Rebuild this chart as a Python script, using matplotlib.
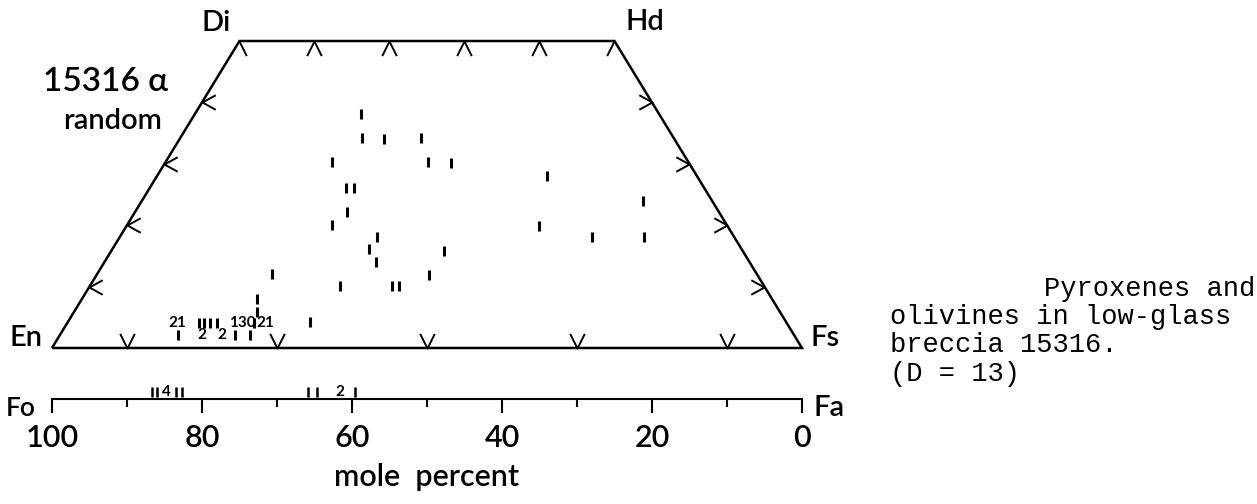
import numpy as np
import matplotlib.pyplot as plt
from matplotlib.path import Path

# pyroxene analyses (single points): horizontal position in mole percent, Wo content
pyx_mg = [58.8, 58.6, 55.7, 50.8, 62.7, 49.9, 46.8, 60.8, 59.7, 60.7, 62.7, 56.6,
          57.7, 47.7, 56.8, 70.6, 49.7, 61.6, 54.7, 53.7, 34.0, 21.2, 35.0, 28.0,
          21.1, 65.6, 83.2, 75.6, 73.6, 80.4, 79.7, 78.9, 78.0, 73.1, 72.6, 72.6]
pyx_wo = [38.1, 34.2, 34.0, 34.2, 30.3, 30.3, 30.1, 26.1, 26.1, 22.1, 20.0, 18.1,
          16.1, 15.8, 14.0, 12.1, 11.9, 10.1, 10.1, 10.1, 28.0, 23.9, 19.9, 18.1,
          18.1, 4.2, 2.1, 2.1, 2.1, 4.1, 4.1, 4.1, 4.1, 4.1, 5.8, 8.0]

# pyroxene multiple points written as counts
cnt_mg = [83.3, 74.6, 71.5, 80.0, 77.3]
cnt_wo = [4.1, 4.1, 4.1, 2.1, 2.1]
cnt_txt = ["21", "130", "21", "2", "2"]

# olivines on the Fo-Fa bar
ol_mg = [86.7, 86.0, 83.5, 82.7, 65.8, 64.7, 59.6]
ol_cnt_mg = [84.8, 61.6]
ol_cnt_txt = ["4", "2"]

tick_vals = [100, 80, 60, 40, 20, 0]
minor_vals = [90, 70, 50, 30, 10]

lab_font = ['Lato', 'DejaVu Sans']
lw_txt = 'semibold'

fig = plt.figure(figsize=(12.57, 5.04), dpi=100)
ax = fig.add_axes([0, 0, 1, 1])
ax.set_xlim(106.93, -60.67)
ax.set_ylim(-25.41, 56.68)
ax.axis('off')

# quadrilateral
ax.plot([100, 75, 25, 0, 100], [0, 50, 50, 0, 0], color='black', lw=1.8,
        solid_joinstyle='miter', solid_capstyle='butt')

def chev(verts):
    return Path(verts, [Path.MOVETO] + [Path.LINETO] * (len(verts) - 1))

kw = dict(ls='none', mfc='none', mec='black', mew=1.4)
ax.plot(minor_vals, np.zeros(len(minor_vals)),
        marker=chev([(-0.5, 1), (0, 0), (0.5, 1)]), ms=21, **kw)
ax.plot([65, 55, 45, 35], [50] * 4,
        marker=chev([(-0.5, -1), (0, 0), (0.5, -1)]), ms=21, **kw)
ax.plot([75], [50], marker=chev([(0, 0), (0.5, -1)]), ms=21, **kw)
ax.plot([25], [50], marker=chev([(0, 0), (-0.5, -1)]), ms=21, **kw)
side_wo = np.array([10, 20, 30, 40])
ax.plot(100 - side_wo / 2, side_wo,
        marker=chev([(1, 0.55), (0, 0), (1, -0.55)]), ms=19, **kw)
ax.plot(side_wo / 2, side_wo,
        marker=chev([(-1, 0.55), (0, 0), (-1, -0.55)]), ms=19, **kw)

# pyroxene points
ax.plot(pyx_mg, pyx_wo, ls='none', marker='|', ms=7.5, mew=2.2, color='black')
for m, w, t in zip(cnt_mg, cnt_wo, cnt_txt):
    ax.text(m, w, t, ha='center', va='center', fontsize=11, fontweight='bold',
            family=lab_font)

# olivine bar
y_bar = -8.3
ax.plot([100, 0], [y_bar, y_bar], color='black', lw=1.5)
ax.vlines(tick_vals, y_bar - 2.3, y_bar, color='black', lw=1.5)
ax.vlines(minor_vals, y_bar - 1.3, y_bar, color='black', lw=1.5)
ax.plot(ol_mg, [y_bar + 1.2] * len(ol_mg), ls='none', marker='|', ms=6.5,
        mew=1.8, color='black')
for m, t in zip(ol_cnt_mg, ol_cnt_txt):
    ax.text(m, y_bar + 1.2, t, ha='center', va='center', fontsize=11,
            fontweight='bold', family=lab_font)

for v in tick_vals:
    ax.text(v, -14.7, str(v), ha='center', va='center', fontsize=22,
            family=lab_font, fontweight=lw_txt)
ax.text(50, -21.0, "mole  percent", ha='center', va='center', fontsize=22,
        family=lab_font, fontweight=lw_txt)

# corner labels
lab = dict(va='center', fontsize=21, family=lab_font, fontweight=lw_txt)
ax.text(78.1, 52.9, "Di", ha='center', **lab)
ax.text(20.9, 53.1, "Hd", ha='center', **lab)
ax.text(101.2, 1.7, "En", ha='right', **lab)
ax.text(-1.1, 1.7, "Fs", ha='left', **lab)
ax.text(106.2, -9.8, "Fo", ha='left', va='center', fontsize=19,
        family=lab_font, fontweight=lw_txt)
ax.text(-1.5, -9.8, "Fa", ha='left', **lab)
ax.text(92.8, 43.3, "15316 α", ha='center', va='center', fontsize=24,
        family=lab_font, fontweight=lw_txt)
ax.text(91.9, 37.0, "random", ha='center', **lab)

# caption
cap = dict(fontsize=19.5, family='Liberation Mono', va='center')
fig.text(1255 / 1257, 1 - 289 / 504, "Pyroxenes and", ha='right', **cap)
fig.text(890 / 1257, 1 - 317 / 504, "olivines in low-glass", ha='left', **cap)
fig.text(890 / 1257, 1 - 345 / 504, "breccia 15316.", ha='left', **cap)
fig.text(890 / 1257, 1 - 374 / 504, "(D = 13)", ha='left', **cap)

fig.savefig("out.png", dpi=100, facecolor='white')
